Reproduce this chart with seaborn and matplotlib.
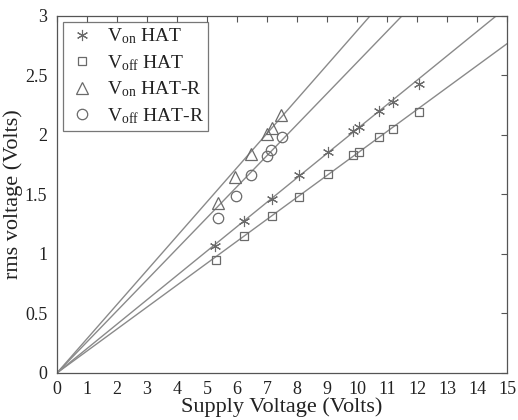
import matplotlib
matplotlib.use("Agg")
import matplotlib.pyplot as plt
import seaborn as sns
import numpy as np

# data
von_hat_x = [5.27, 6.24, 7.16, 8.06, 9.03, 9.86, 10.08, 10.74, 11.21, 12.08]
von_hat_y = [1.07, 1.28, 1.46, 1.66, 1.86, 2.03, 2.07, 2.20, 2.28, 2.43]
voff_hat_x = [5.29, 6.24, 7.16, 8.06, 9.03, 9.86, 10.08, 10.74, 11.21, 12.08]
voff_hat_y = [0.95, 1.15, 1.32, 1.48, 1.67, 1.83, 1.86, 1.98, 2.05, 2.19]
von_hatr_x = [5.38, 5.93, 6.47, 6.99, 7.16, 7.47]
von_hatr_y = [1.43, 1.65, 1.84, 2.01, 2.06, 2.17]
voff_hatr_x = [5.38, 5.97, 6.47, 6.99, 7.13, 7.49]
voff_hatr_y = [1.30, 1.49, 1.66, 1.82, 1.87, 1.98]
# fitted line slopes (through origin)
fit_slopes = [0.2876, 0.2610, 0.2050, 0.1845]
fit_x = [0, 15]
xticks = list(range(0, 16))
yticks = [0, 0.5, 1, 1.5, 2, 2.5, 3]

sns.set_style("white")
plt.rcParams['font.family'] = ['Liberation Serif', 'DejaVu Serif']
plt.rcParams['mathtext.fontset'] = 'custom'
plt.rcParams['mathtext.rm'] = 'Liberation Serif'
plt.rcParams['mathtext.it'] = 'Liberation Serif'

fig = plt.figure(figsize=(5.18, 4.20), dpi=100)
ax = fig.add_axes([0.110, 0.112, 0.869, 0.850])

gray = '#8a8a8a'
mgray = '#6a6a6a'

for s in fit_slopes:
    xs = np.array(fit_x, dtype=float)
    sns.lineplot(x=xs, y=s * xs, ax=ax, color=gray, lw=1.0, label='_nolegend_')

common = dict(ax=ax, linestyle='', sort=False, estimator=None, color=mgray)
sns.lineplot(x=von_hat_x, y=von_hat_y, marker=(6, 2, 0), ms=8, mew=0.8,
             mec=mgray, label=r'V$_{\mathrm{on}}$ HAT', **common)
sns.lineplot(x=voff_hat_x, y=voff_hat_y, marker='s', ms=6, mew=0.9,
             mfc='none', mec=mgray, label=r'V$_{\mathrm{off}}$ HAT', **common)
sns.lineplot(x=von_hatr_x, y=von_hatr_y, marker='^', ms=8, mew=0.9,
             mfc='none', mec=mgray, label=r'V$_{\mathrm{on}}$ HAT-R', **common)
sns.lineplot(x=voff_hatr_x, y=voff_hatr_y, marker='o', ms=7.5, mew=0.9,
             mfc='none', mec=mgray, label=r'V$_{\mathrm{off}}$ HAT-R', **common)

ax.set_xlim(0, 15)
ax.set_ylim(0, 3)
ax.set_xticks(xticks)
ax.set_xticklabels([str(t) for t in xticks])
ax.set_yticks(yticks)
ax.set_yticklabels(['0', '0.5', '1', '1.5', '2', '2.5', '3'])
ax.tick_params(direction='in', top=True, right=True, length=4, width=0.8,
               color='#555555', labelsize=13, labelcolor='#222222')
ax.tick_params(axis='x', pad=6)
ax.tick_params(axis='y', pad=7)
for sp in ax.spines.values():
    sp.set_color('#555555')
    sp.set_linewidth(0.9)

ax.set_xlabel('Supply Voltage (Volts)', fontsize=16, color='#222222')
ax.set_ylabel('rms voltage (Volts)', fontsize=16, color='#222222')
ax.xaxis.set_label_coords(0.5, -0.068)
ax.yaxis.set_label_coords(-0.076, 0.5)

leg = ax.legend(loc='upper left', fontsize=14, frameon=True, fancybox=False,
                edgecolor='#555555', borderpad=0.25, labelspacing=0.35,
                handlelength=1.5, handletextpad=0.5, borderaxespad=0.3)
leg.get_frame().set_linewidth(0.9)
for t in leg.get_texts():
    t.set_color('#222222')

fig.savefig('out.png', dpi=100)
